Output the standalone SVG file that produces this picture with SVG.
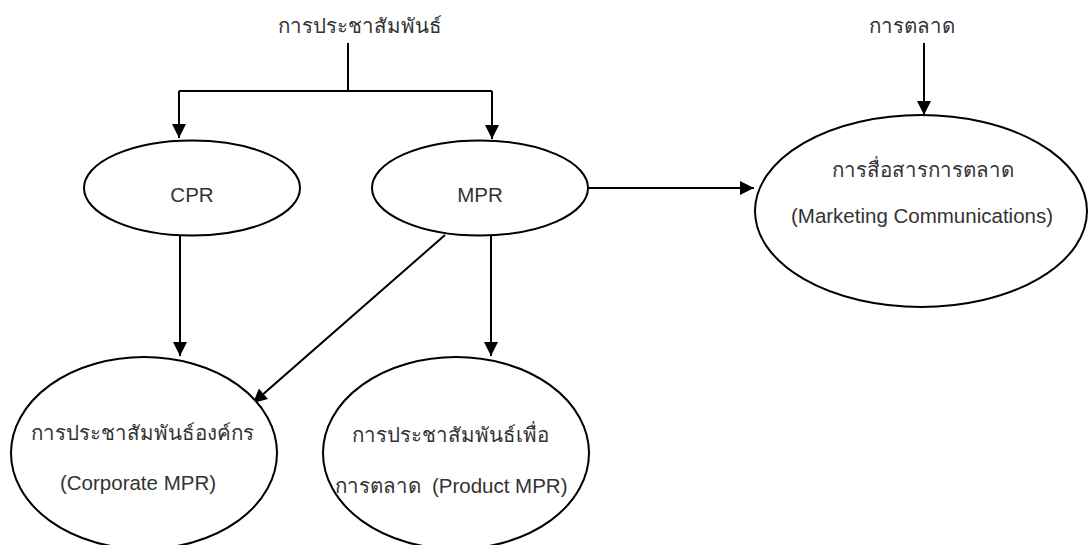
<svg xmlns="http://www.w3.org/2000/svg" width="1088" height="545" viewBox="0 0 1088 545">
<style>
.n{fill:#fff;stroke:#000;stroke-width:2}
.c{fill:none;stroke:#000;stroke-width:2}
.t{font-family:"Liberation Sans",Arial,sans-serif;font-size:20.5px;fill:#333;text-anchor:middle}
</style>
<defs>
<marker id="ah" markerUnits="userSpaceOnUse" markerWidth="14" markerHeight="14" refX="14" refY="7" orient="auto" viewBox="0 0 14 14">
<path d="M0,0 L14,7 L0,14 z" fill="#000"/>
</marker>
</defs>
<rect width="1088" height="545" fill="#fff"/>
<g id="label-pr"><text class="t" x="360" y="33">การประชาสัมพันธ์</text></g>
<g id="label-mkt"><text class="t" x="912" y="33">การตลาด</text></g>
<g id="connectors">
<path class="c" d="M348,43 V91"/>
<path class="c" d="M179,91 H492"/>
<path class="c" d="M179,91 V138" marker-end="url(#ah)"/>
<path class="c" d="M492,91 V139" marker-end="url(#ah)"/>
<path class="c" d="M924,43 V115" marker-end="url(#ah)"/>
<path class="c" d="M588,188 H754" marker-end="url(#ah)"/>
<path class="c" d="M180,235 V356" marker-end="url(#ah)"/>
<path class="c" d="M491,235 V356" marker-end="url(#ah)"/>
<path class="c" d="M445,235 L253,403" marker-end="url(#ah)"/>
</g>
<g id="cpr"><ellipse class="n" cx="192" cy="188" rx="108" ry="47.5"/><text class="t" x="192" y="202">CPR</text></g>
<g id="mpr"><ellipse class="n" cx="480" cy="188" rx="108" ry="47.5"/><text class="t" x="480" y="202">MPR</text></g>
<g id="marcom"><ellipse class="n" cx="921" cy="211" rx="166" ry="96"/><text class="t" x="923" y="177">การสื่อสารการตลาด</text><text class="t" x="922" y="223">(Marketing Communications)</text></g>
<g id="corporate"><ellipse class="n" cx="144" cy="453" rx="133" ry="96"/><text class="t" x="142" y="440">การประชาสัมพันธ์องค์กร</text><text class="t" x="138" y="490">(Corporate MPR)</text></g>
<g id="product"><ellipse class="n" cx="456" cy="453" rx="133" ry="96"/><text class="t" x="450" y="442">การประชาสัมพันธ์เพื่อ</text><text class="t" x="451" y="493" xml:space="preserve">การตลาด  (Product MPR)</text></g>
</svg>
